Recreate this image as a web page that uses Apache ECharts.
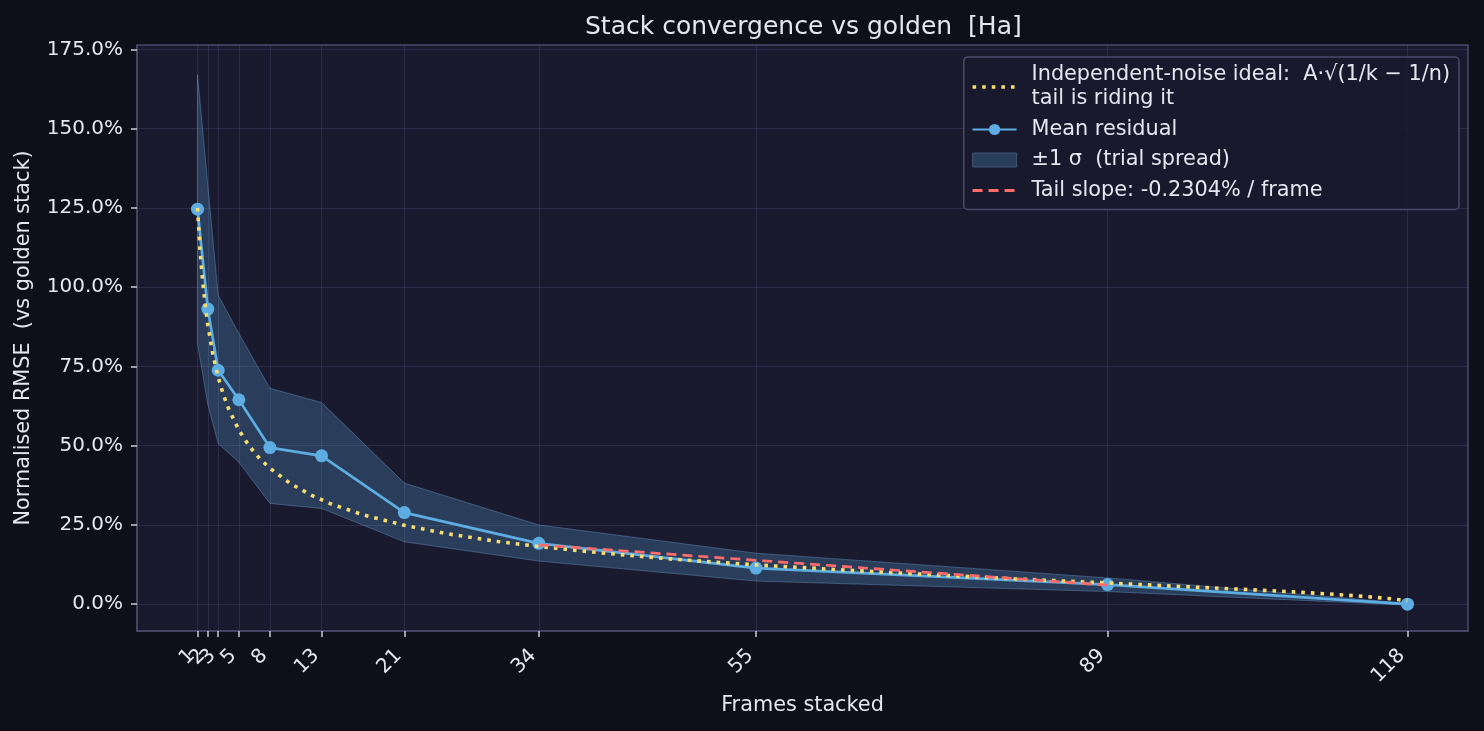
<!DOCTYPE html>
<html>
<head>
<meta charset="utf-8">
<title>Stack convergence vs golden</title>
<script src="https://cdn.jsdelivr.net/npm/echarts@6.0.0/dist/echarts.min.js"></script>
<style>
    html, body { margin: 0; padding: 0; background: #0f0f1a; }
    #main { width: 1484px; height: 731px; }
</style>
</head>
<body>
<div id="main"></div>
<script>
// frames stacked (x) and values, in percent
var frames = [1, 2, 3, 5, 8, 13, 21, 34, 55, 89, 118];
var meanResidual = [124.6, 93.1, 73.8, 64.5, 49.4, 46.8, 28.9, 19.2, 11.4, 6.2, 0.0];
var sigmaUpper = [167.0, 132.0, 97.5, 85.4, 68.1, 63.6, 38.2, 25.0, 16.1, 8.3, 0.3];
var sigmaLower = [82.2, 63.0, 50.7, 44.8, 31.8, 30.2, 19.7, 13.6, 7.3, 4.0, -0.3];

// dotted ideal curve, read at more frames so it bends like the original
var idealFrames = [1, 1.25, 1.5, 1.75, 2, 2.5, 3, 3.5, 4, 5, 6, 7, 8, 10, 12, 14, 17, 21, 25, 30, 34,
    40, 47, 55, 64, 72, 80, 89, 96, 102, 107, 111, 114, 116, 118];
var idealValues = [125.0, 111.7, 101.8, 94.2, 88.0, 78.6, 71.6, 66.1, 61.7, 54.9, 49.9, 46.0, 42.9, 38.0,
    34.4, 31.5, 28.2, 24.9, 22.3, 19.8, 18.2, 16.2, 14.2, 12.4, 10.7, 9.3, 8.0, 6.7, 5.6, 4.7, 3.9, 3.1,
    2.4, 1.85, 1.1];

// tail fit end points
var tailFrames = [34, 89];
var tailValues = [18.7, 6.0];

var xTicks = [1, 2, 3, 5, 8, 13, 21, 34, 55, 89, 118];
// labels that sit on top of a neighbour go on a second axis so none get culled
var xLabelsMain = [1, 3, 5, 8, 13, 21, 34, 55, 89, 118];
var xLabelsCrowded = [2];
var yTicks = [0, 25, 50, 75, 100, 125, 150, 175];

var NAME_IDEAL = 'Independent-noise ideal:  A\u00b7\u221a(1/k \u2212 1/n)\ntail is riding it';
var NAME_MEAN = 'Mean residual';
var NAME_SIGMA = '\u00b11 \u03c3  (trial spread)';
var NAME_TAIL = 'Tail slope: -0.2304% / frame';

var FONT = 'DejaVu Sans';
var TEXT = '#e6e6f0';
var NO_MARK = {color: 'rgba(0,0,0,0)', borderColor: 'rgba(0,0,0,0)', borderWidth: 0};

function zip(xs, ys) {
    var out = [];
    for (var i = 0; i < xs.length; i++) {
        out.push([xs[i], ys[i]]);
    }
    return out;
}

function StackChart() {
    this.init();
}
StackChart.prototype = {
    constructor: StackChart,
    init: function () {
        this.chart = echarts.init(document.getElementById('main'), null, {renderer: 'canvas'});
        this.chart.setOption(this.buildOption());
    },
    // band polygon: upper edge forward, lower edge back
    renderBand: function (params, api) {
        var pts = [];
        for (var i = 0; i < frames.length; i++) {
            pts.push(api.coord([frames[i], sigmaUpper[i]]));
        }
        for (var j = frames.length - 1; j >= 0; j--) {
            pts.push(api.coord([frames[j], sigmaLower[j]]));
        }
        return {
            type: 'polygon',
            shape: {points: pts},
            style: {
                fill: 'rgba(93,173,226,0.25)',
                stroke: 'rgba(120,180,230,0.35)',
                lineWidth: 1
            }
        };
    },
    xLabel: function (values) {
        return {
            customValues: values,
            interval: 0,
            hideOverlap: false,
            showMinLabel: true,
            showMaxLabel: true,
            rotate: 45,
            margin: 16,
            padding: [0, 8, 0, 0],
            color: TEXT,
            fontSize: 20,
            fontFamily: FONT
        };
    },
    buildOption: function () {
        var that = this;
        return {
            backgroundColor: '#0f0f1a',
            animation: false,
            textStyle: {fontFamily: FONT},
            title: {
                text: 'Stack convergence vs golden  [Ha]',
                left: 580,
                top: 10,
                textStyle: {color: TEXT, fontSize: 25, fontWeight: 'normal', fontFamily: FONT}
            },
            grid: {
                left: 137,
                right: 16,
                top: 45,
                bottom: 100,
                show: true,
                backgroundColor: '#1a1a2e',
                borderColor: '#4a4a68',
                borderWidth: 1.5
            },
            legend: {
                orient: 'vertical',
                right: 25,
                top: 57,
                padding: [6, 9, 7, 7],
                itemGap: 6.5,
                itemWidth: 44,
                itemHeight: 14,
                backgroundColor: 'rgba(26,26,46,0.9)',
                borderColor: '#4a4a68',
                borderWidth: 1.5,
                borderRadius: 4,
                selectedMode: false,
                textStyle: {color: TEXT, fontSize: 20.8, lineHeight: 24, fontFamily: FONT, padding: [0, 0, 0, 10]},
                data: [
                    {name: NAME_IDEAL, itemStyle: NO_MARK, lineStyle: {width: 3.6}},
                    {name: NAME_MEAN},
                    {name: NAME_SIGMA, icon: 'rect', itemStyle: {color: '#2b3f5b', borderColor: '#3f5673', borderWidth: 1}},
                    {name: NAME_TAIL, itemStyle: NO_MARK, lineStyle: {width: 3}}
                ]
            },
            xAxis: [
                {
                    type: 'value',
                    min: -4.85,
                    max: 123.85,
                    name: 'Frames stacked',
                    nameLocation: 'middle',
                    nameGap: 64,
                    nameTextStyle: {color: TEXT, fontSize: 20.8, fontFamily: FONT},
                    axisLine: {show: true, onZero: false, lineStyle: {color: '#4a4a68', width: 1.5}},
                    axisTick: {show: true, customValues: xTicks, length: 6, lineStyle: {color: '#c8c8d8', width: 1.5}},
                    axisLabel: that.xLabel(xLabelsMain),
                    splitLine: {show: true, lineStyle: {color: 'rgba(80,80,120,0.35)', width: 1}}
                },
                {
                    type: 'value',
                    position: 'bottom',
                    offset: 0,
                    min: -4.85,
                    max: 123.85,
                    axisLine: {show: false, onZero: false},
                    axisTick: {show: false},
                    axisLabel: that.xLabel(xLabelsCrowded),
                    splitLine: {show: false}
                }
            ],
            yAxis: {
                type: 'value',
                min: -8.45,
                max: 176.4,
                name: 'Normalised RMSE  (vs golden stack)',
                nameLocation: 'middle',
                nameGap: 103,
                nameTextStyle: {color: TEXT, fontSize: 20.8, fontFamily: FONT},
                axisLine: {show: true, onZero: false, lineStyle: {color: '#4a4a68', width: 1.5}},
                axisTick: {show: true, customValues: yTicks, length: 6, lineStyle: {color: '#c8c8d8', width: 1.5}},
                axisLabel: {
                    customValues: yTicks,
                    margin: 14,
                    color: TEXT,
                    fontSize: 20,
                    fontFamily: FONT,
                    formatter: function (v) {
                        return v.toFixed(1) + '%';
                    }
                },
                splitLine: {show: true, lineStyle: {color: 'rgba(80,80,120,0.35)', width: 1}}
            },
            series: [
                {
                    name: NAME_SIGMA,
                    type: 'custom',
                    z: 1,
                    silent: true,
                    itemStyle: {color: '#2b3f5b'},
                    data: [[frames[0], sigmaUpper[0]]],
                    renderItem: function (params, api) {
                        return that.renderBand(params, api);
                    }
                },
                {
                    name: NAME_MEAN,
                    type: 'line',
                    z: 3,
                    data: zip(frames, meanResidual),
                    symbol: 'circle',
                    symbolSize: 13,
                    lineStyle: {color: '#5dade2', width: 2.7},
                    itemStyle: {color: '#5dade2'}
                },
                {
                    name: NAME_IDEAL,
                    type: 'line',
                    z: 4,
                    data: zip(idealFrames, idealValues),
                    symbol: 'none',
                    showSymbol: false,
                    lineStyle: {color: '#f7dc6f', width: 3.6, type: [3.6, 6]},
                    itemStyle: {color: '#f7dc6f'}
                },
                {
                    name: NAME_TAIL,
                    type: 'line',
                    z: 5,
                    data: zip(tailFrames, tailValues),
                    symbol: 'none',
                    showSymbol: false,
                    lineStyle: {color: '#ff6b6b', width: 2.7, type: [10, 6]},
                    itemStyle: {color: '#ff6b6b'}
                }
            ]
        };
    }
};

var StackChartIns = new StackChart();
</script>
</body>
</html>
